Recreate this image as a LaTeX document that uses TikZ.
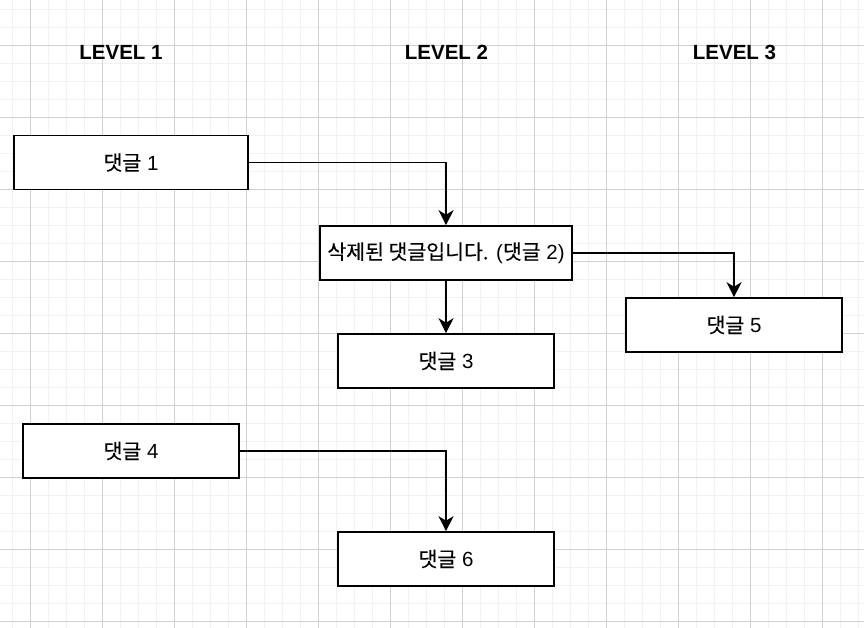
\documentclass[tikz,border=0pt]{standalone}
\usepackage{fontspec}
\setmainfont{Liberation Sans}
\newfontfamily\kr{Noto Sans CJK KR}[FakeBold=0.3]
\usetikzlibrary{arrows.meta}
\definecolor{minorgrid}{HTML}{F2F2F2}
\definecolor{majorgrid}{HTML}{D0D0D0}
\begin{document}
\begin{tikzpicture}[x=1pt,y=-1pt,
  box/.style={draw=black, line width=1.6pt, fill=white, inner sep=0pt, font=\fontsize{20.5}{24}\selectfont},
  level/.style={font=\bfseries\fontsize{20.5}{24}\selectfont, inner sep=0pt},
  conn/.style={draw=black, line width=1.4pt, -{Stealth[length=15pt, width=15pt, inset=4.5pt]}}
]
\useasboundingbox (0,0) rectangle (864,628);
\fill[white] (0,0) rectangle (864,628);
% minor grid
\foreach \i in {0,...,47} {
  \draw[minorgrid, line width=1.2pt] (12.5+18*\i,0) -- (12.5+18*\i,628);
}
\foreach \j in {0,...,34} {
  \draw[minorgrid, line width=1.2pt] (0,9.5+18*\j) -- (864,9.5+18*\j);
}
% major grid
\foreach \i in {0,...,11} {
  \draw[majorgrid, line width=1.2pt] (30.5+72*\i,0) -- (30.5+72*\i,628);
}
\foreach \j in {0,...,8} {
  \draw[majorgrid, line width=1.2pt] (0,45.5+72*\j) -- (864,45.5+72*\j);
}
% headings
\node[level] (l1) at (121,52) {LEVEL 1};
\node[level] (l2) at (446.5,52) {LEVEL 2};
\node[level] (l3) at (734.5,52) {LEVEL 3};
% boxes
\node[box, minimum width=234pt, minimum height=54pt] (b1) at (131,162.5) {{\kr 댓글} 1};
\node[box, minimum width=252pt, minimum height=54pt] (b2) at (446,253) {{\kr 삭제된 댓글입니다.} ({\kr 댓글} 2)};
\node[box, minimum width=216pt, minimum height=54pt] (b3) at (446,361) {{\kr 댓글} 3};
\node[box, minimum width=216pt, minimum height=54pt] (b5) at (734,325) {{\kr 댓글} 5};
\node[box, minimum width=216pt, minimum height=54pt] (b4) at (131,451) {{\kr 댓글} 4};
\node[box, minimum width=216pt, minimum height=54pt] (b6) at (446,559) {{\kr 댓글} 6};
% connectors
\draw[conn] (b1.east) -| (b2.north);
\draw[conn] (b2.south) -- (b3.north);
\draw[conn] (b2.east) -| (b5.north);
\draw[conn] (b4.east) -| (b6.north);
\end{tikzpicture}
\end{document}
